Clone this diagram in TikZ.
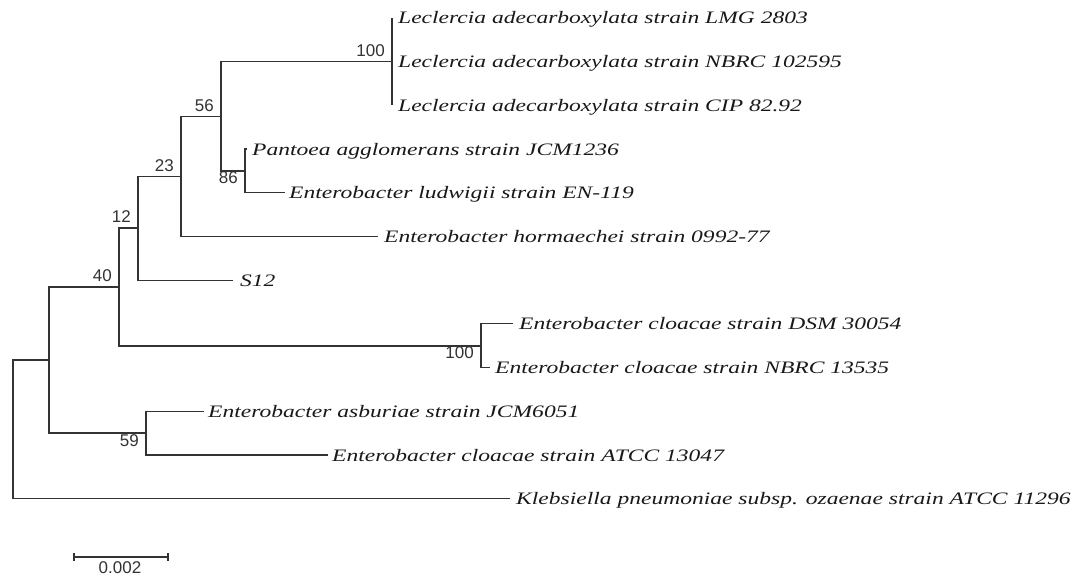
\documentclass[tikz,border=0pt]{standalone}
\usepackage{fontspec}
\setmainfont{Liberation Serif}
\newfontfamily\taxfont[FakeStretch=1.345]{Liberation Serif}
\newfontfamily\numfont{Liberation Sans}
\begin{document}
\begin{tikzpicture}[x=1pt,y=-1pt,
  br/.style={draw=black!80, line width=1.2pt},
  leaf/.style={anchor=base west, inner sep=0pt, yshift=-6pt, text=black!90,
    font=\taxfont\itshape\fontsize{17.5}{20}\selectfont},
  bsup/.style={anchor=base east, inner sep=0pt, xshift=-7pt, yshift=5pt,
    text=black!80, font=\numfont\fontsize{17}{20}\selectfont},
  bsdown/.style={bsup, yshift=-18pt},
  sclabel/.style={anchor=base, inner sep=0pt, text=black!80,
    font=\numfont\fontsize{17}{20}\selectfont}]
\fill[white] (0,0) rectangle (1080,580);
\useasboundingbox (0,0) rectangle (1080,580);
% internal nodes
\coordinate (root) at (13,429.5);
\coordinate (nA) at (49,360);
\coordinate (n40) at (119,287);
\coordinate (n12) at (138,228);
\coordinate (n23) at (181,176.5);
\coordinate (n56) at (221,116.5);
\coordinate (nLec) at (392,61.7);
\coordinate (n86) at (245,171);
\coordinate (nCl) at (481,346);
\coordinate (n59) at (146,433);
% leaf tips
\coordinate (t1) at (392,18);
\coordinate (t2) at (392,61.7);
\coordinate (t3) at (392,105.4);
\coordinate (t4) at (247,149.1);
\coordinate (t5) at (285,192.8);
\coordinate (t6) at (378,236.5);
\coordinate (t7) at (233,280.2);
\coordinate (t8) at (513,323.9);
\coordinate (t9) at (490,367.6);
\coordinate (t10) at (204,411.3);
\coordinate (t11) at (328,455);
\coordinate (t12) at (510,498.7);
% branches
\draw[br] (root) |- (nA);
\draw[br] (root) |- (t12);
\draw[br] (nA) |- (n40);
\draw[br] (nA) |- (n59);
\draw[br] (n40) |- (n12);
\draw[br] (n40) |- (nCl);
\draw[br] (n12) |- (n23);
\draw[br] (n12) |- (t7);
\draw[br] (n23) |- (n56);
\draw[br] (n23) |- (t6);
\draw[br] (n56) |- (nLec);
\draw[br] (n56) |- (n86);
\draw[br] (nLec) |- (t1);
\draw[br] (nLec) |- (t2);
\draw[br] (nLec) |- (t3);
\draw[br] (n86) |- (t4);
\draw[br] (n86) |- (t5);
\draw[br] (nCl) |- (t8);
\draw[br] (nCl) |- (t9);
\draw[br] (n59) |- (t10);
\draw[br] (n59) |- (t11);
% leaf labels
\node[leaf] (L1) at (398,18) {Leclercia adecarboxylata strain LMG 2803};
\node[leaf] (L2) at (398,61.7) {Leclercia adecarboxylata strain NBRC 102595};
\node[leaf] (L3) at (398,105.4) {Leclercia adecarboxylata strain CIP 82.92};
\node[leaf] (L4) at (252,149.1) {Pantoea agglomerans strain JCM1236};
\node[leaf] (L5) at (289,192.8) {Enterobacter ludwigii strain EN-119};
\node[leaf] (L6) at (384,236.5) {Enterobacter hormaechei strain 0992-77};
\node[leaf] (L7) at (240,280.2) {S12};
\node[leaf] (L8) at (519,323.9) {Enterobacter cloacae strain DSM 30054};
\node[leaf] (L9) at (495,367.6) {Enterobacter cloacae strain NBRC 13535};
\node[leaf] (L10) at (208,411.3) {Enterobacter asburiae strain JCM6051};
\node[leaf] (L11) at (332,455) {Enterobacter cloacae strain ATCC 13047};
\node[leaf] (L12) at (516,498.7) {Klebsiella pneumoniae subsp. ozaenae strain ATCC 11296};
% bootstrap values
\node[bsup] (b100a) at (nLec) {100};
\node[bsup] (b56) at (n56) {56};
\node[bsdown] (b86) at (n86) {86};
\node[bsup] (b23) at (n23) {23};
\node[bsup] (b12) at (n12) {12};
\node[bsup] (b40) at (n40) {40};
\node[bsdown] (b100b) at (nCl) {100};
\node[bsdown] (b59) at (n59) {59};
% scale bar
\coordinate (s1) at (74,557);
\coordinate (s2) at (168,557);
\draw[br] (s1) -- (s2);
\draw[br] ([yshift=4pt]s1) -- ([yshift=-4pt]s1);
\draw[br] ([yshift=4pt]s2) -- ([yshift=-4pt]s2);
\node[sclabel] (sl) at (120,573) {0.002};
\end{tikzpicture}
\end{document}
